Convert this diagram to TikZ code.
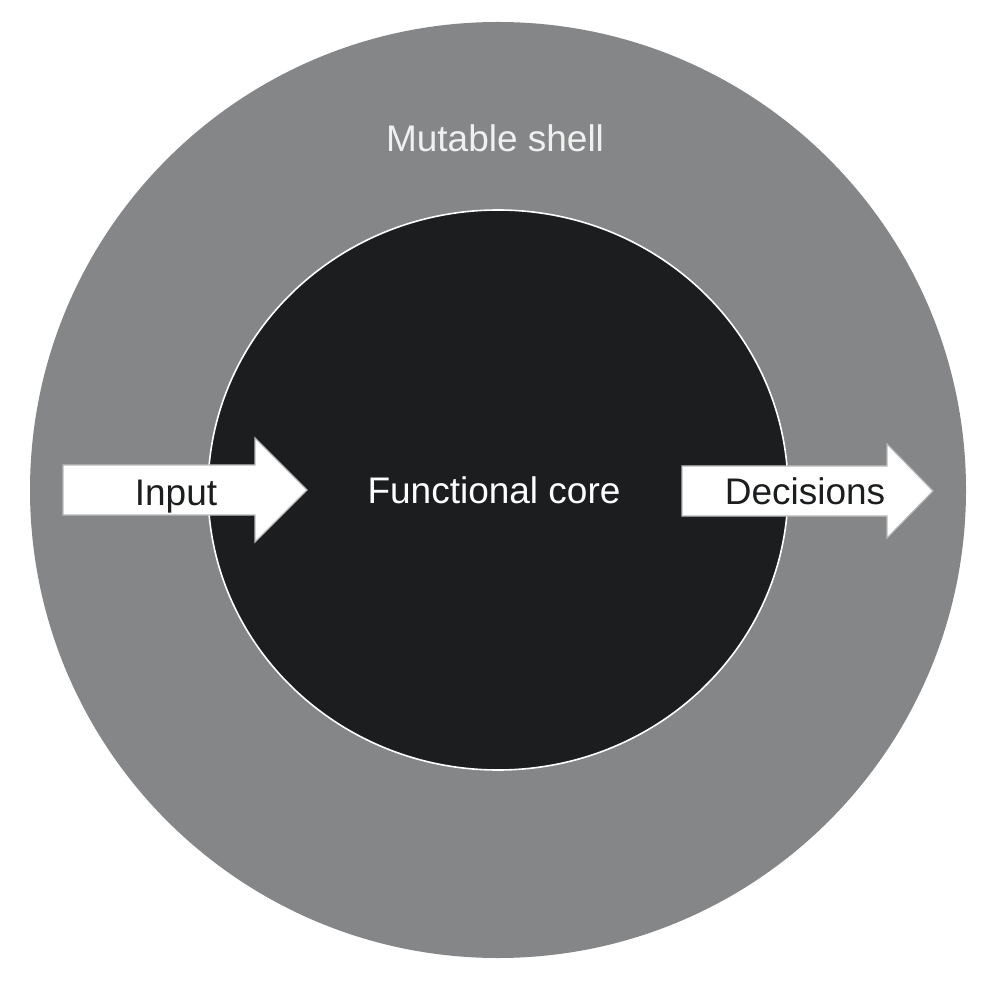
\documentclass[tikz,border=0pt]{standalone}
\usepackage{fontspec}
\setmainfont{Liberation Sans}
\usepackage{tikz}

\definecolor{shellgray}{HTML}{858688}
\definecolor{coreblack}{HTML}{1B1D1F}
\definecolor{rimgray}{HTML}{B8B8B8}

\begin{document}
\begin{tikzpicture}[x=0.5pt,y=-0.5pt,
lbl/.style={inner sep=0pt, anchor=base, font=\fontsize{18.5}{22}\selectfont},
flow/.style={fill=white, draw=rimgray, line width=0.6pt, line join=miter}]
    \useasboundingbox (0,0) rectangle (1000,988);
    \fill [shellgray] (498,490) circle (468);
    \draw [fill=coreblack, draw=white, line width=0.8pt] (498,490) ellipse (290 and 280);
    % input and decisions arrows
    \draw [flow] (63,465) -- (255,465) -- (255,438) -- (307,490)
          -- (255,542) -- (255,515) -- (63,515) -- cycle;
    \draw [flow] (682,466) -- (887,466) -- (887,444) -- (933,491)
          -- (887,538) -- (887,516) -- (682,516) -- cycle;
    \draw 
          (495,152) node[lbl, text=white!94!black] (shell) {Mutable shell}
          (494,503) node[lbl, text=white] (core) {Functional core}
          (176,505) node[lbl, text=coreblack] (input) {Input}
          (805,504) node[lbl, text=coreblack] (decisions) {Decisions}
        ;
\end{tikzpicture}
\end{document}
